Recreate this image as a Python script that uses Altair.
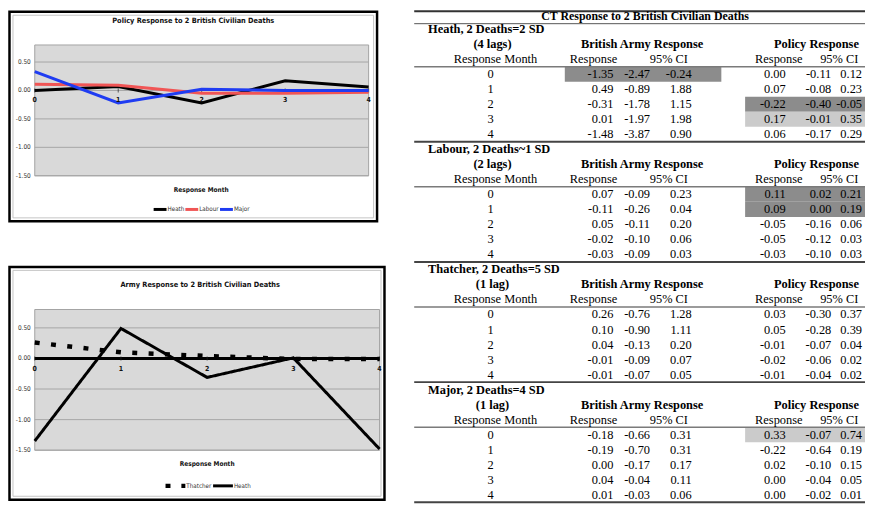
import altair as alt
import pandas as pd

# ---------------- chart data ----------------
months = [0, 1, 2, 3, 4]
policy_heath = [0.00, 0.07, -0.22, 0.17, 0.06]
policy_labour = [0.11, 0.09, -0.05, -0.05, -0.03]
policy_major = [0.33, -0.22, 0.02, 0.00, 0.00]
army_thatcher = [0.26, 0.10, 0.04, -0.01, -0.01]
army_heath = [-1.35, 0.49, -0.31, 0.01, -1.48]
y_ticks = [-1.5, -1.0, -0.5, 0.0, 0.5]
y_domain = [-1.5, 0.8]
top_series = ["Heath", "Labour", "Major"]
top_colors = ["#000000", "#f05555", "#1f3cf2"]
bot_series = ["Thatcher", "Heath"]

# ---------------- table data ----------------
table_title = "CT Response to 2 British Civilian Deaths"
block_labels = ["Heath, 2 Deaths=2 SD", "Labour, 2 Deaths~1 SD",
                "Thatcher, 2 Deaths=5 SD", "Major, 2 Deaths=4 SD"]
block_lags = ["(4 lags)", "(2 lags)", "(1 lag)", "(1 lag)"]
group_headers = ["British Army Response", "Policy Response"]
sub_headers = ["Response Month", "Response", "95% CI", "Response", "95% CI"]

heath_army = [[-1.35, -2.47, -0.24], [0.49, -0.89, 1.88], [-0.31, -1.78, 1.15],
              [0.01, -1.97, 1.98], [-1.48, -3.87, 0.90]]
heath_policy = [[0.00, -0.11, 0.12], [0.07, -0.08, 0.23], [-0.22, -0.40, -0.05],
                [0.17, -0.01, 0.35], [0.06, -0.17, 0.29]]
labour_army = [[0.07, -0.09, 0.23], [-0.11, -0.26, 0.04], [0.05, -0.11, 0.20],
               [-0.02, -0.10, 0.06], [-0.03, -0.09, 0.03]]
labour_policy = [[0.11, 0.02, 0.21], [0.09, 0.00, 0.19], [-0.05, -0.16, 0.06],
                 [-0.05, -0.12, 0.03], [-0.03, -0.10, 0.03]]
thatcher_army = [[0.26, -0.76, 1.28], [0.10, -0.90, 1.11], [0.04, -0.13, 0.20],
                 [-0.01, -0.09, 0.07], [-0.01, -0.07, 0.05]]
thatcher_policy = [[0.03, -0.30, 0.37], [0.05, -0.28, 0.39], [-0.01, -0.07, 0.04],
                   [-0.02, -0.06, 0.02], [-0.01, -0.04, 0.02]]
major_army = [[-0.18, -0.66, 0.31], [-0.19, -0.70, 0.31], [0.00, -0.17, 0.17],
              [0.04, -0.04, 0.11], [0.01, -0.03, 0.06]]
major_policy = [[0.33, -0.07, 0.74], [-0.22, -0.64, 0.19], [0.02, -0.10, 0.15],
                [0.00, -0.04, 0.05], [0.00, -0.02, 0.01]]
# shaded cells: (block, month, group, shade)
shaded_cells = [(0, 0, "army", "dark"), (0, 2, "policy", "dark"), (0, 3, "policy", "light"),
                (1, 0, "policy", "dark"), (1, 1, "policy", "dark"), (3, 0, "policy", "light")]

SANS = "Liberation Sans Narrow, DejaVu Sans Condensed, sans-serif"
SERIF = "Liberation Serif, Times New Roman, serif"
TXT = 12.5    # regular table text
BOLD = 12.5   # bold table headers
one = pd.DataFrame({"k": [0]})

# layout anchors
NUM_RIGHT = [611, 648, 690, 785, 831, 862]
SUB_CENTER = [492, 591, 667, 778, 839]
GRP_CENTER = [640, 816]
TOP_LEG_X = [147, 179, 214]     # swatch start of each legend entry (top chart)
BOT_LEG_X = [159, 207]          # swatch start of each legend entry (bottom chart)


def fmt(v):
    return f"{v:.2f}"


def frame(x0, y0, x1, y1):
    outer = alt.Chart(one).mark_rect(fill="white", stroke="black", strokeWidth=2.5).encode(
        x=alt.value(x0), x2=alt.value(x1), y=alt.value(y0), y2=alt.value(y1))
    inner = alt.Chart(one).mark_rect(fillOpacity=0, stroke="#c4c4c4", strokeWidth=1).encode(
        x=alt.value(x0 + 3.5), x2=alt.value(x1 - 3.5), y=alt.value(y0 + 3.5), y2=alt.value(y1 - 3.5))
    return [outer, inner]


def panel(xs, ys, title, tx, ty, xtx, xty, lines, x_dy, axis_line):
    layers = []
    layers.append(alt.Chart(one).mark_rect(fill="#d9d9d9", stroke="#a3a3a3", strokeWidth=1).encode(
        x=alt.X(datum=0, scale=xs, axis=None), x2=alt.X2(datum=4),
        y=alt.Y(datum=y_domain[0], scale=ys, axis=None), y2=alt.Y2(datum=y_domain[1])))
    tick_df = pd.DataFrame({"v": y_ticks, "lab": [fmt(v) for v in y_ticks]})
    layers.append(alt.Chart(tick_df).mark_rule(color="#a6a6a6", strokeWidth=1).encode(
        y=alt.Y("v:Q", scale=ys, axis=None),
        x=alt.X(datum=0, scale=xs, axis=None), x2=alt.X2(datum=4)))
    layers.append(alt.Chart(tick_df).mark_text(
        align="right", baseline="middle", font=SANS, fontSize=6.5, color="#333333").encode(
        y=alt.Y("v:Q", scale=ys, axis=None), x=alt.value(xs.range[0] - 4), text="lab:N"))
    if axis_line:
        layers.append(alt.Chart(one).mark_rule(color="black", strokeWidth=3).encode(
            y=alt.Y(datum=0, scale=ys, axis=None),
            x=alt.X(datum=0, scale=xs, axis=None), x2=alt.X2(datum=4)))
    mdf = pd.DataFrame({"m": months, "lab": [str(m) for m in months]})
    layers.append(alt.Chart(mdf).mark_tick(orient="vertical", size=4, thickness=1, color="#222222").encode(
        x=alt.X("m:Q", scale=xs, axis=None), y=alt.Y(datum=0, scale=ys, axis=None)))
    layers += lines
    layers.append(alt.Chart(mdf).mark_text(
        baseline="middle", font=SANS, fontSize=7, fontWeight="bold", color="#111111", dy=x_dy).encode(
        x=alt.X("m:Q", scale=xs, axis=None), y=alt.Y(datum=0, scale=ys, axis=None), text="lab:N"))
    layers.append(alt.Chart(one).mark_text(
        text=title, font=SANS, fontSize=7.4, fontWeight="bold", color="#111111", baseline="middle").encode(
        x=alt.value(tx), y=alt.value(ty)))
    layers.append(alt.Chart(one).mark_text(
        text="Response Month", font=SANS, fontSize=6.6, fontWeight="bold", color="#111111",
        baseline="middle").encode(x=alt.value(xtx), y=alt.value(xty)))
    return layers


def legend_entry(name, color, x0, length, y, width, dash=None):
    kw = dict(color=color, strokeWidth=width, strokeCap="butt")
    if dash:
        kw["strokeDash"] = dash
    sw = alt.Chart(pd.DataFrame({"s": [name]})).mark_rule(**kw).encode(
        x=alt.value(x0), x2=alt.value(x0 + length), y=alt.value(y))
    lab = alt.Chart(pd.DataFrame({"s": [name]})).mark_text(
        align="left", baseline="middle", font=SANS, fontSize=6.3, color="#333333").encode(
        x=alt.value(x0 + length + 1), y=alt.value(y), text="s:N")
    return [sw, lab]


# ---------- top chart: policy response ----------
xs_top = alt.Scale(domain=[0, 4], range=[27, 364], nice=False, zero=False)
ys_top = alt.Scale(domain=y_domain, range=[167, 35], nice=False, zero=False)
df_top = pd.DataFrame({
    "month": months * 3,
    "value": policy_heath + policy_labour + policy_major,
    "party": ["Heath"] * 5 + ["Labour"] * 5 + ["Major"] * 5,
})
top_lines = [alt.Chart(df_top).mark_line(strokeWidth=3).encode(
    x=alt.X("month:Q", scale=xs_top, axis=None),
    y=alt.Y("value:Q", scale=ys_top, axis=None),
    color=alt.Color("party:N", scale=alt.Scale(domain=top_series, range=top_colors), legend=None),
)]
for name, col, lx in zip(top_series, top_colors, TOP_LEG_X):
    top_lines += legend_entry(name, col, lx, 13, 201, 3)

# ---------- bottom chart: army response ----------
xs_bot = alt.Scale(domain=[0, 4], range=[27, 375], nice=False, zero=False)
ys_bot = alt.Scale(domain=y_domain, range=[444, 302], nice=False, zero=False)
df_bot = pd.DataFrame({
    "month": months * 2,
    "value": army_thatcher + army_heath,
    "series": ["Thatcher"] * 5 + ["Heath"] * 5,
})
bot_lines = [alt.Chart(df_bot).mark_line(strokeCap="butt", color="black").encode(
    x=alt.X("month:Q", scale=xs_bot, axis=None),
    y=alt.Y("value:Q", scale=ys_bot, axis=None),
    detail="series:N",
    strokeDash=alt.StrokeDash("series:N", scale=alt.Scale(domain=bot_series, range=[[5, 11.5], [1, 0]]),
                              legend=None),
    strokeWidth=alt.StrokeWidth("series:N", scale=alt.Scale(domain=bot_series, range=[4.5, 3]),
                                legend=None),
)]
bot_lines += legend_entry(bot_series[0], "black", BOT_LEG_X[0], 20, 480, 4.5, dash=[5, 11])
bot_lines += legend_entry(bot_series[1], "black", BOT_LEG_X[1], 20, 480, 3)

layers = []
layers += frame(1.5, 1.5, 372.5, 213)
layers += panel(xs_top, ys_top, "Policy Response to 2 British Civilian Deaths",
                187, 11, 195, 181, top_lines, 10, False)
layers += frame(1.5, 259, 380, 494)
layers += panel(xs_bot, ys_bot, "Army Response to 2 British Civilian Deaths",
                194, 277, 201, 458, bot_lines, 11, True)

# ---------- table ----------
ys_tab = alt.Scale(domain=[1, 32], range=[19, 489], nice=False, zero=False)
blocks = [(heath_army, heath_policy), (labour_army, labour_policy),
          (thatcher_army, thatcher_policy), (major_army, major_policy)]

num_rows, month_rows, label_rows, lag_rows, grp_rows, sub_rows = [], [], [], [], [], []
thin_lines, thick_lines, shade_rows = [], [], []
for b, (army, pol) in enumerate(blocks):
    base = 1 + 8 * b
    label_rows.append({"row": base, "txt": block_labels[b]})
    lag_rows.append({"row": base + 1, "txt": block_lags[b]})
    for g, h in enumerate(group_headers):
        grp_rows.append({"row": base + 1, "col": g, "txt": h})
    for s, h in enumerate(sub_headers):
        sub_rows.append({"row": base + 2, "col": s, "txt": h})
    thin_lines.append({"row": base + 2.5})
    thick_lines.append({"row": base + 7.5})
    for r in range(5):
        month_rows.append({"row": base + 3 + r, "txt": str(months[r])})
        for c in range(3):
            num_rows.append({"row": base + 3 + r, "col": c, "txt": fmt(army[r][c])})
            num_rows.append({"row": base + 3 + r, "col": 3 + c, "txt": fmt(pol[r][c])})
for (b, m, grp, lvl) in shaded_cells:
    shade_rows.append({"row": 1 + 8 * b + 3 + m, "grp": grp, "lvl": lvl})

shade_df = pd.DataFrame(shade_rows)
shade_df["lo"] = shade_df["row"] - 0.5
shade_df["hi"] = shade_df["row"] + 0.5
shade_color = alt.Color("lvl:N", scale=alt.Scale(domain=["dark", "light"], range=["#8c8c8c", "#cbcbcb"]),
                        legend=None)
for grp, (xa, xb) in {"army": (562, 720), "policy": (744, 865)}.items():
    layers.append(alt.Chart(shade_df).transform_filter(alt.datum.grp == grp).mark_rect().encode(
        y=alt.Y("lo:Q", scale=ys_tab, axis=None), y2="hi:Q",
        x=alt.value(xa), x2=alt.value(xb), color=shade_color))

# table rules
layers.append(alt.Chart(one).mark_rule(color="#333333", strokeWidth=2).encode(
    x=alt.value(410), x2=alt.value(865), y=alt.value(1)))
layers.append(alt.Chart(one).mark_rule(color="#555555", strokeWidth=1).encode(
    x=alt.value(410), x2=alt.value(865), y=alt.value(13.5)))
layers.append(alt.Chart(pd.DataFrame(thin_lines)).mark_rule(color="#7a7a7a", strokeWidth=1.5).encode(
    y=alt.Y("row:Q", scale=ys_tab, axis=None), x=alt.value(410), x2=alt.value(865)))
layers.append(alt.Chart(pd.DataFrame(thick_lines)).mark_rule(color="#444444", strokeWidth=2).encode(
    y=alt.Y("row:Q", scale=ys_tab, axis=None), x=alt.value(410), x2=alt.value(865)))

# table texts
layers.append(alt.Chart(one).mark_text(
    text=table_title, font=SERIF, fontSize=12, fontWeight="bold", baseline="middle", color="black").encode(
    x=alt.value(643), y=alt.value(5.5)))
layers.append(alt.Chart(pd.DataFrame(label_rows)).mark_text(
    font=SERIF, fontSize=BOLD, fontWeight="bold", align="left", baseline="middle", color="black").encode(
    x=alt.value(424), y=alt.Y("row:Q", scale=ys_tab, axis=None), text="txt:N"))
layers.append(alt.Chart(pd.DataFrame(lag_rows)).mark_text(
    font=SERIF, fontSize=BOLD, fontWeight="bold", baseline="middle", color="black").encode(
    x=alt.value(489), y=alt.Y("row:Q", scale=ys_tab, axis=None), text="txt:N"))
layers.append(alt.Chart(pd.DataFrame(month_rows)).mark_text(
    font=SERIF, fontSize=TXT, baseline="middle", color="black").encode(
    x=alt.value(487), y=alt.Y("row:Q", scale=ys_tab, axis=None), text="txt:N"))

grp_df = pd.DataFrame(grp_rows)
for g, xc in enumerate(GRP_CENTER):
    layers.append(alt.Chart(grp_df).transform_filter(alt.datum.col == g).mark_text(
        font=SERIF, fontSize=BOLD, fontWeight="bold", baseline="middle", color="black").encode(
        x=alt.value(xc), y=alt.Y("row:Q", scale=ys_tab, axis=None), text="txt:N"))
sub_df = pd.DataFrame(sub_rows)
for s, xc in enumerate(SUB_CENTER):
    layers.append(alt.Chart(sub_df).transform_filter(alt.datum.col == s).mark_text(
        font=SERIF, fontSize=TXT, baseline="middle", color="black").encode(
        x=alt.value(xc), y=alt.Y("row:Q", scale=ys_tab, axis=None), text="txt:N"))
num_df = pd.DataFrame(num_rows)
for c, xr in enumerate(NUM_RIGHT):
    layers.append(alt.Chart(num_df).transform_filter(alt.datum.col == c).mark_text(
        font=SERIF, fontSize=TXT, align="right", baseline="middle", color="black").encode(
        x=alt.value(xr), y=alt.Y("row:Q", scale=ys_tab, axis=None), text="txt:N"))

chart = alt.layer(*layers).resolve_scale(
    x="independent", y="independent", color="independent", strokeDash="independent",
    strokeWidth="independent"
).properties(
    width=865, height=498, padding=0, background="white",
    autosize=alt.AutoSizeParams(type="none"),
).configure_view(stroke=None)

chart.save("out.html", embed_options={"renderer": "svg", "actions": False})
